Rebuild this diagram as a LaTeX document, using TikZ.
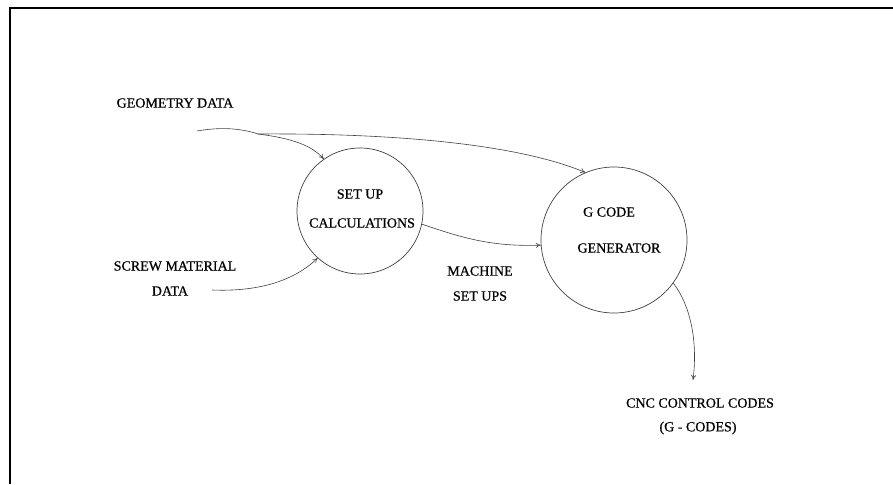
\documentclass[tikz,border=0pt]{standalone}
\usepackage{fontspec}
\setmainfont{Liberation Serif}
\newfontfamily\lblfont{Liberation Serif}[FakeBold=0.6]
\usetikzlibrary{arrows.meta}
\begin{document}
\begin{tikzpicture}[x=1pt,y=-1pt,
  lbl/.style={font=\lblfont\fontsize{14}{15}\selectfont, align=center, inner sep=0pt, text=black},
  proc/.style={circle, draw=black!75, line width=0.7pt, inner sep=0pt},
  flow/.style={draw=black!75, line width=0.6pt, -{To[length=5pt,width=5pt]}},
  plain/.style={draw=black!75, line width=0.6pt},
  frame/.style={draw=black, line width=2pt}]
\useasboundingbox (0,0) rectangle (893,484);
\draw[frame] (9,8) -- (893,8);
\draw[frame] (10,8) -- (10,484);
% processes
\node[proc, minimum size=126pt] (sc) at (360,211) {};
\node[proc, minimum size=146pt] (gc) at (614,240) {};
\node[lbl] (sc1) at (360,194) {SET UP};
\node[lbl] (sc2) at (362,223) {CALCULATIONS};
\node[lbl] (gc1) at (609,212) {G CODE};
\node[lbl] (gc2) at (619,248) {GENERATOR};
% labels
\node[lbl] (geo) at (175,103) {GEOMETRY DATA};
\node[lbl] (scr1) at (175,266) {SCREW MATERIAL};
\node[lbl] (scr2) at (170,291) {DATA};
\node[lbl] (ms1) at (480,271) {MACHINE};
\node[lbl] (ms2) at (480,296) {SET UPS};
\node[lbl] (cnc1) at (700,403) {CNC CONTROL CODES};
\node[lbl] (cnc2) at (698,428) {(G - CODES)};
% connector ends
\coordinate (gstart) at (197,131);
\coordinate (gsplit) at (258,134);
\coordinate (sstart) at (212,290);
\coordinate (cend) at (693,380);
% connectors
\draw[plain] (gstart) .. controls (220,127) and (240,128) .. (gsplit);
\draw[flow] (gsplit) .. controls (290,138) and (312,145) .. (sc.125);
\draw[flow] (gsplit) .. controls (400,133) and (520,145) .. (gc.113);
\draw[flow] (sstart) .. controls (260,292) and (295,280) .. (sc.228);
\draw[flow] (sc.-12) .. controls (460,237) and (490,247) .. (gc.184);
\draw[flow] (gc.-36) .. controls (690,305) and (698,340) .. (cend);
\end{tikzpicture}
\end{document}
